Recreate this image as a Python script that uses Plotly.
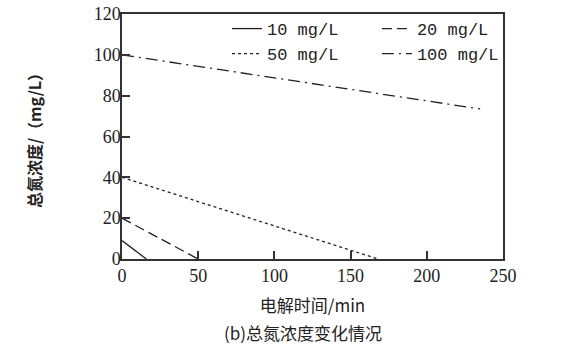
import plotly.graph_objects as go

series_names = ["10 mg/L", "20 mg/L", "50 mg/L", "100 mg/L"]
time_10 = [0, 16]
tn_10 = [9, 0]
time_20 = [0, 50]
tn_20 = [20, 0]
time_50 = [0, 168]
tn_50 = [40, 0]
time_100 = [0, 235]
tn_100 = [100, 73.5]

x_ticks = [0, 50, 100, 150, 200, 250]
y_ticks = [0, 20, 40, 60, 80, 100, 120]

INK = "#222222"
NUM_FONT = "Liberation Serif, DejaVu Serif, serif"
LEG_FONT = "Liberation Mono"
CJK_FONT = "Noto Sans CJK SC"

fig = go.Figure()
specs = [
    (time_10, tn_10, series_names[0], "solid", "legend"),
    (time_20, tn_20, series_names[1], "10px,5px", "legend2"),
    (time_50, tn_50, series_names[2], "dot", "legend"),
    (time_100, tn_100, series_names[3], "12px,5px,2px,5px", "legend2"),
]
for xs, ys, name, dash, leg in specs:
    fig.add_trace(go.Scatter(
        x=xs, y=ys, mode="lines", name=name, legend=leg,
        line=dict(color=INK, width=1.3, dash=dash),
    ))

axis_common = dict(
    showgrid=False, zeroline=False, showline=True, linecolor="#333333", linewidth=1.5,
    mirror=True, ticks="inside", ticklen=8, tickwidth=1.5, tickcolor="#333333",
    tickfont=dict(family=NUM_FONT, size=18, color=INK), automargin=False,
)

fig.update_layout(
    width=564, height=356,
    margin=dict(l=122, r=61, t=13, b=97),
    paper_bgcolor="white", plot_bgcolor="white",
    xaxis=dict(range=[0, 250], tickvals=x_ticks, **axis_common,
               title=dict(text="电解时间/min", font=dict(family=CJK_FONT, size=17, color=INK), standoff=15)),
    yaxis=dict(range=[0, 120], tickvals=y_ticks, ticklabelstandoff=-4, **axis_common,
               title=dict(text="<b>总氮浓度/（mg/L）</b>", font=dict(family=CJK_FONT, size=16, color=INK), standoff=48)),
    legend=dict(x=0.2756, y=1.008, xanchor="left", yanchor="top", bgcolor="rgba(0,0,0,0)",
                font=dict(family=LEG_FONT, size=17, color=INK), tracegroupgap=0),
    legend2=dict(x=0.669, y=1.008, xanchor="left", yanchor="top", bgcolor="rgba(0,0,0,0)",
                 font=dict(family=LEG_FONT, size=17, color=INK), tracegroupgap=0),
    annotations=[dict(
        text="(b)总氮浓度变化情况", xref="paper", yref="paper", x=0.475, y=-0.3,
        xanchor="center", yanchor="middle", showarrow=False,
        font=dict(family=CJK_FONT, size=17, color=INK),
    )],
)

fig.write_html("out.html", config={"displayModeBar": False},
               post_script="document.body.style.margin='0';")
